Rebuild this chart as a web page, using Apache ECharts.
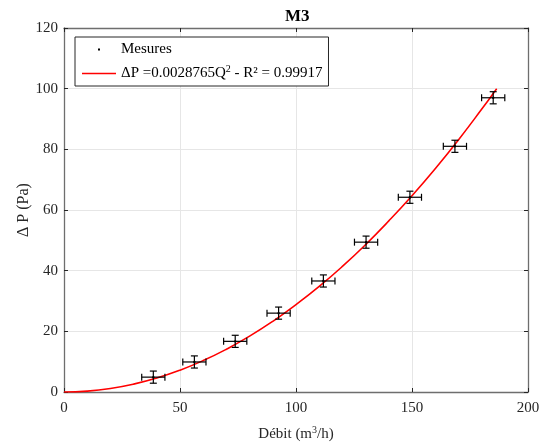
<!DOCTYPE html>
<html>
<head>
<meta charset="utf-8">
<script src="https://cdn.jsdelivr.net/npm/echarts@6/dist/echarts.min.js"></script>
<style>html,body{margin:0;padding:0;background:#fff}#c{width:547px;height:448px}</style>
</head>
<body>
<div id="c"></div>
<script>
// Measured points (flow Q in m3/h, pressure drop in Pa) with error bars
const debit = [38.5, 56.2, 73.8, 92.5, 111.8, 130.2, 149.1, 168.5, 185.0];
const deltaP = [4.9, 9.9, 16.7, 26.0, 36.6, 49.4, 64.2, 81.0, 97.0];
const errDebit = [5, 5, 5, 5, 5, 5, 5, 5, 5];
const errDeltaP = [2, 2, 2, 2, 2, 2, 2, 2, 2];
// Fitted curve
const fitQ = [0, 10, 20, 30, 40, 50, 60, 70, 80, 90, 100, 110, 120, 130, 140, 150, 160, 170, 180, 186.5];
const fitP = [0, 0.29, 1.15, 2.59, 4.6, 7.19, 10.36, 14.1, 18.4, 23.3, 28.8, 34.8, 41.4, 48.6, 56.4, 64.7, 73.6, 83.1, 93.2, 100.0];
const xTicks = [0, 50, 100, 150, 200];
const yTicks = [0, 20, 40, 60, 80, 100, 120];

const FONT = 'Liberation Serif';
const AXC = '#6e6e6e';
const TKC = '#262626';
const chart = echarts.init(document.getElementById('c'), null, {renderer: 'canvas'});

const pts = debit.map((q, i) => [q, deltaP[i], errDebit[i], errDeltaP[i]]);
const fit = fitQ.map((q, i) => [q, fitP[i]]);

const baseX = {
  type: 'value', min: xTicks[0], max: xTicks[xTicks.length - 1], interval: 50,
  axisLine: {show: true, onZero: false, lineStyle: {color: AXC, width: 1.3}},
  axisTick: {show: true, inside: true, length: 4, lineStyle: {color: TKC}},
  splitLine: {show: false}
};
const baseY = {
  type: 'value', min: yTicks[0], max: yTicks[yTicks.length - 1], interval: 20,
  axisLine: {show: true, onZero: false, lineStyle: {color: AXC, width: 1.3}},
  axisTick: {show: true, inside: true, length: 4, lineStyle: {color: TKC}},
  splitLine: {show: false}
};

chart.setOption({
  animation: false,
  backgroundColor: '#fff',
  title: {
    text: 'M3', left: 280, top: 3,
    textStyle: {fontFamily: FONT, fontWeight: 'bold', fontSize: 17, color: '#000'}
  },
  grid: {left: 64, top: 28, right: 19, bottom: 56, containLabel: false},
  xAxis: [
    Object.assign({}, baseX, {
      position: 'bottom',
      name: '{t|Débit (m}{s|3}{t|/h)}', nameLocation: 'middle', nameGap: 33, nameMoveOverlap: false,
      nameTextStyle: {rich: {
        t: {fontFamily: FONT, fontSize: 15, color: '#262626'},
        s: {fontFamily: FONT, fontSize: 10, color: '#262626', verticalAlign: 'top', padding: [0, 0, 9, 0]}
      }},
      axisLabel: {fontFamily: FONT, fontSize: 15, color: '#262626', margin: 9},
      splitLine: {show: true, lineStyle: {color: '#e6e6e6', width: 1}}
    }),
    Object.assign({}, baseX, {position: 'top', axisLabel: {show: false}})
  ],
  yAxis: [
    Object.assign({}, baseY, {
      position: 'left',
      name: 'Δ P (Pa)', nameLocation: 'middle', nameGap: 32, nameRotate: 90, nameMoveOverlap: false,
      nameTextStyle: {fontFamily: FONT, fontSize: 16, color: '#262626'},
      axisLabel: {fontFamily: FONT, fontSize: 15, color: '#262626', margin: 6},
      splitLine: {show: true, lineStyle: {color: '#e6e6e6', width: 1}}
    }),
    Object.assign({}, baseY, {position: 'right', axisLabel: {show: false}})
  ],
  legend: {
    orient: 'vertical', left: 75, top: 37,
    padding: [5, 6, 5, 7], itemWidth: 34, itemHeight: 14, itemGap: 7,
    borderColor: '#262626', borderWidth: 1, backgroundColor: '#fff',
    data: [
      {name: 'Mesures', icon: 'path://M0,0 M34,14 M16,6 L18,6 L18,8 L16,8 Z', itemStyle: {color: '#000'}},
      {name: 'fit', icon: 'path://M0,0 M34,14 M0,6.2 L34,6.2 L34,7.8 L0,7.8 Z', itemStyle: {color: '#ff0000'}}
    ],
    formatter: function (n) {
      if (n === 'fit') return '{t|ΔP =0.0028765Q}{s|2}{t| - R² = 0.99917}';
      return '{t|Mesures}';
    },
    textStyle: {
      fontFamily: FONT, fontSize: 15, color: '#000',
      rich: {
        t: {fontFamily: FONT, fontSize: 15, color: '#000'},
        s: {fontFamily: FONT, fontSize: 10, color: '#000', verticalAlign: 'top', padding: [0, 0, 9, 0]}
      }
    }
  },
  series: [
    {
      name: 'fit', type: 'line', data: fit, smooth: true, showSymbol: false,
      lineStyle: {color: '#ff0000', width: 1.6}, itemStyle: {color: '#ff0000'},
      xAxisIndex: 0, yAxisIndex: 0, z: 3
    },
    {
      name: 'Mesures', type: 'custom', data: pts, xAxisIndex: 0, yAxisIndex: 0, z: 4,
      itemStyle: {color: '#000'},
      encode: {x: 0, y: 1},
      renderItem: function (params, api) {
        const x = api.value(0), y = api.value(1), ex = api.value(2), ey = api.value(3);
        const l = api.coord([x - ex, y]), r = api.coord([x + ex, y]);
        const t = api.coord([x, y + ey]), b = api.coord([x, y - ey]);
        const c = api.coord([x, y]);
        const cap = 3.5;
        const st = {stroke: '#000', lineWidth: 1.2, fill: null};
        const line = (x1, y1, x2, y2) => ({type: 'line', shape: {x1, y1, x2, y2}, style: st});
        return {
          type: 'group',
          children: [
            line(l[0], l[1], r[0], r[1]),
            line(t[0], t[1], b[0], b[1]),
            line(l[0], l[1] - cap, l[0], l[1] + cap),
            line(r[0], r[1] - cap, r[0], r[1] + cap),
            line(t[0] - cap, t[1], t[0] + cap, t[1]),
            line(b[0] - cap, b[1], b[0] + cap, b[1]),
            {type: 'circle', shape: {cx: c[0], cy: c[1], r: 1.2}, style: {fill: '#000'}}
          ]
        };
      }
    }
  ]
});
</script>
</body>
</html>
